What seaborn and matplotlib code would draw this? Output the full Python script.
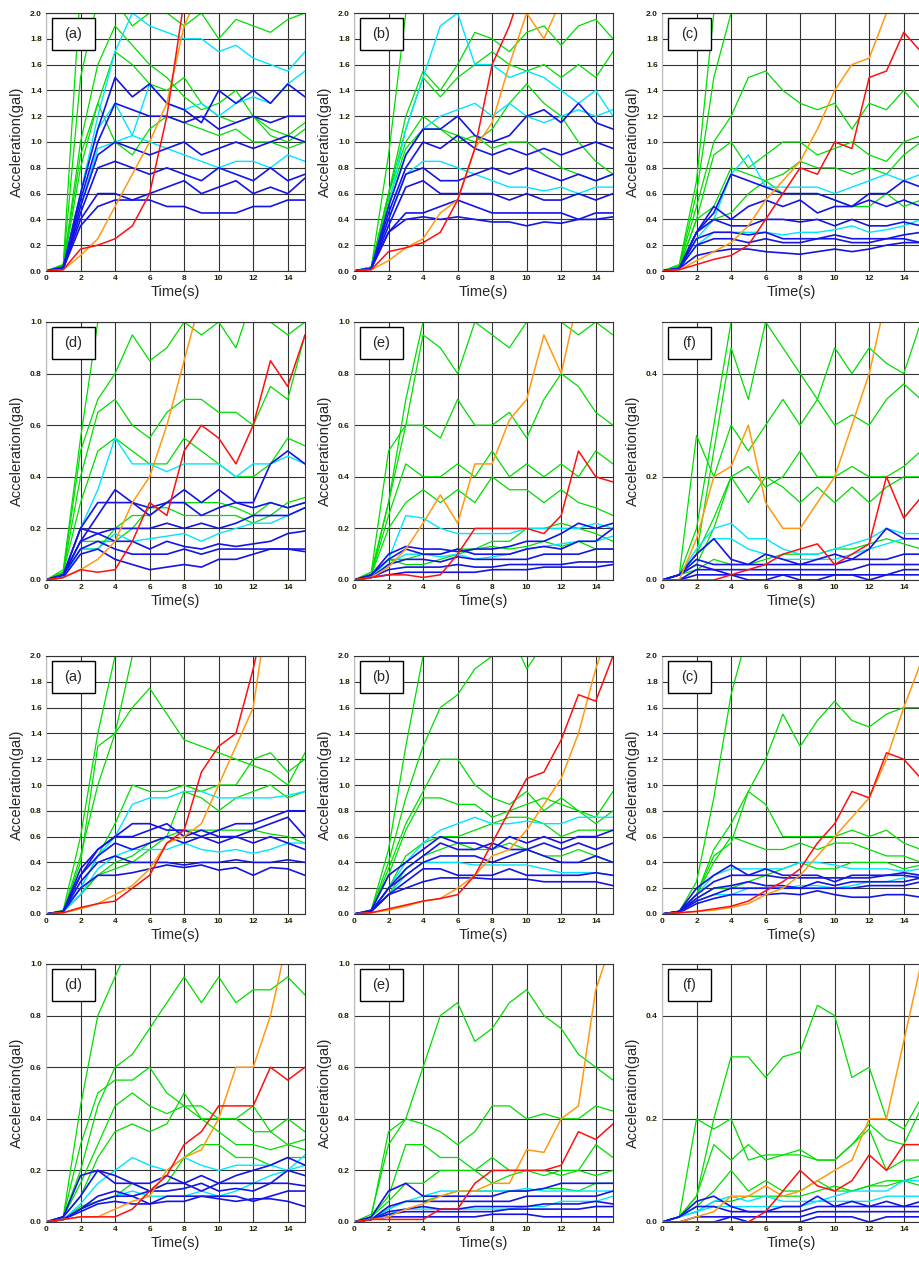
import numpy as np
import pandas as pd
import matplotlib
matplotlib.use('Agg')
import matplotlib.pyplot as plt
import seaborn as sns
from matplotlib.patches import Rectangle

# time axis (s), one sample per second
time_s = list(range(16))

# ---------- upper group ----------
ta_green = [[0, .05, 2.2, 3, 3, 3, 3, 3, 3, 3, 3, 3, 3, 3, 3, 3],
            [0, .05, 1.5, 2.1, 2.1, 1.9, 2.0, 2.0, 1.9, 2.0, 1.8, 1.95, 1.9, 1.85, 1.95, 2.0],
            [0, .04, 1.0, 1.6, 1.9, 1.75, 1.6, 1.5, 1.35, 1.25, 1.3, 1.4, 1.2, 1.1, 1.05, 1.15],
            [0, .04, .9, 1.3, 1.7, 1.6, 1.45, 1.4, 1.5, 1.3, 1.2, 1.15, 1.2, 1.05, 1.0, 1.1],
            [0, .03, .8, 1.3, 1.0, .9, 1.1, 1.2, 1.15, 1.1, 1.05, 1.1, 1.0, 1.0, .95, 1.0]]
ta_cyan = [[0, .03, .6, 1.2, 1.7, 2.0, 1.9, 1.85, 1.8, 1.8, 1.7, 1.75, 1.65, 1.6, 1.55, 1.7],
           [0, .03, .6, 1.1, 1.3, 1.05, 1.45, 1.3, 1.25, 1.3, 1.2, 1.3, 1.35, 1.3, 1.45, 1.55],
           [0, .03, .5, .95, 1.0, 1.05, 1.0, .95, .9, .85, .8, .85, .85, .8, .9, .85]]
ta_blue = [[0, .03, .6, 1.1, 1.5, 1.35, 1.45, 1.3, 1.25, 1.15, 1.4, 1.3, 1.4, 1.3, 1.45, 1.35],
           [0, .03, .55, 1.0, 1.3, 1.25, 1.2, 1.2, 1.15, 1.2, 1.1, 1.15, 1.2, 1.15, 1.2, 1.2],
           [0, .02, .5, .9, 1.0, .95, .9, .95, 1.0, .9, .95, 1.0, .95, 1.0, 1.05, 1.0],
           [0, .02, .45, .8, .85, .8, .75, .8, .75, .7, .8, .75, .7, .8, .7, .75],
           [0, .02, .4, .6, .6, .55, .6, .65, .7, .6, .65, .7, .6, .65, .6, .72],
           [0, .02, .35, .5, .55, .55, .55, .5, .5, .45, .45, .45, .5, .5, .55, .55]]
ta_red = [0, .01, .17, .2, .25, .35, .6, 1.2, 2.1, 3, 3, 3, 3, 3, 3, 3]
ta_orange = [0, .01, .12, .25, .5, .75, 1.0, 1.3, 1.9, 2.2, 3, 3, 3, 3, 3, 3]

tb_green = [[0, .03, .9, 2.0, 2.5, 3, 3, 3, 3, 3, 3, 3, 3, 3, 3, 3],
            [0, .03, .6, 1.2, 1.55, 1.4, 1.6, 1.85, 1.8, 1.7, 1.85, 1.9, 1.75, 1.9, 1.95, 1.8],
            [0, .03, .6, 1.1, 1.5, 1.35, 1.5, 1.6, 1.7, 1.6, 1.55, 1.6, 1.5, 1.6, 1.5, 1.7],
            [0, .03, .6, 1.0, 1.2, 1.1, 1.05, 1.0, 1.1, 1.3, 1.45, 1.3, 1.2, 1.0, .85, .75],
            [0, .03, .55, .95, 1.1, 1.1, 1.0, 1.05, .95, 1.0, 1.0, .9, .8, .75, .7, .75]]
tb_cyan = [[0, .03, .5, 1.1, 1.5, 1.9, 2.0, 1.6, 1.6, 1.5, 1.55, 1.5, 1.4, 1.3, 1.4, 1.2],
           [0, .02, .5, .9, 1.1, 1.2, 1.25, 1.3, 1.2, 1.3, 1.2, 1.15, 1.2, 1.25, 1.2, 1.25],
           [0, .02, .4, .75, .85, .85, .8, .75, .7, .65, .65, .62, .65, .6, .65, .65]]
tb_blue = [[0, .02, .5, .9, 1.1, 1.1, 1.2, 1.05, 1.0, 1.05, 1.2, 1.25, 1.15, 1.3, 1.15, 1.1],
           [0, .02, .45, .8, 1.0, .95, 1.05, .95, .9, .95, .9, .95, .9, .95, 1.0, .95],
           [0, .02, .4, .75, .8, .7, .7, .75, .8, .75, .8, .75, .7, .75, .7, .75],
           [0, .02, .35, .65, .7, .6, .6, .6, .6, .55, .6, .55, .55, .6, .55, .6],
           [0, .02, .3, .45, .45, .5, .55, .5, .45, .45, .45, .45, .45, .4, .45, .45],
           [0, .02, .3, .4, .42, .4, .42, .4, .38, .38, .35, .38, .37, .4, .4, .42]]
tb_red = [0, .01, .15, .18, .22, .3, .55, .95, 1.6, 1.9, 2.3, 3, 3, 3, 3, 3]
tb_orange = [0, .01, .08, .18, .25, .45, .55, .95, 1.15, 1.6, 2.0, 1.8, 2.1, 3, 3, 3]

tc_green = [[0, .05, .7, 2.0, 2.5, 3, 3, 3, 3, 3, 3, 3, 3, 3, 3, 3],
            [0, .04, .6, 1.5, 2.0, 2.0, 2.2, 2.1, 2.0, 2.0, 2.1, 2.2, 2.1, 2.0, 2.2, 2.0],
            [0, .04, .5, 1.0, 1.2, 1.5, 1.55, 1.4, 1.3, 1.25, 1.3, 1.1, 1.3, 1.25, 1.4, 1.25],
            [0, .03, .4, .9, 1.0, .8, .9, 1.0, 1.0, .9, .95, 1.0, .9, .85, 1.0, 1.05],
            [0, .03, .3, .4, .45, .6, .7, .75, .85, .8, .8, .75, .8, .75, .9, 1.0],
            [0, .03, .4, .5, .8, .75, .7, .6, .6, .6, .55, .5, .5, .6, .5, .55]]
tc_cyan = [[0, .02, .25, .4, .75, .9, .65, .65, .65, .65, .6, .65, .7, .75, .7, .75],
           [0, .02, .2, .3, .3, .3, .3, .28, .3, .3, .32, .35, .3, .32, .35, .4]]
tc_blue = [[0, .02, .3, .45, .75, .7, .65, .6, .6, .6, .55, .5, .6, .6, .7, .65],
           [0, .02, .3, .5, .4, .5, .55, .5, .55, .45, .5, .5, .55, .5, .55, .5],
           [0, .02, .3, .4, .35, .35, .4, .4, .38, .4, .35, .4, .35, .35, .38, .35],
           [0, .02, .25, .3, .3, .28, .3, .25, .25, .25, .28, .25, .25, .25, .28, .3],
           [0, .02, .2, .25, .25, .22, .25, .22, .22, .25, .25, .22, .22, .25, .25, .22],
           [0, .02, .12, .15, .17, .17, .15, .14, .13, .15, .17, .15, .17, .2, .22, .22]]
tc_red = [0, .01, .05, .09, .12, .2, .4, .6, .8, .75, 1.0, .95, 1.5, 1.55, 1.85, 1.7]
tc_orange = [0, .01, .08, .15, .22, .35, .55, .7, .85, 1.1, 1.4, 1.6, 1.65, 2.0, 2.2, 2.5]

td_green = [[0, .04, .55, 1.0, 1.2, 1.2, 1.2, 1.2, 1.2, 1.2, 1.2, 1.2, 1.2, 1.2, 1.2, 1.2],
            [0, .03, .5, .7, .8, .95, .85, .9, 1.0, .95, 1.0, .9, 1.1, 1.0, .95, 1.0],
            [0, .03, .4, .65, .7, .6, .55, .65, .7, .7, .65, .65, .6, .75, .7, .95],
            [0, .03, .3, .5, .55, .5, .45, .45, .55, .5, .45, .4, .4, .45, .55, .52],
            [0, .02, .15, .15, .15, .2, .28, .28, .25, .25, .25, .25, .22, .25, .3, .32],
            [0, .02, .12, .12, .2, .25, .25, .3, .3, .3, .3, .28, .25, .3, .28, .3]]
td_cyan = [[0, .02, .2, .35, .55, .45, .45, .42, .45, .45, .45, .4, .45, .45, .48, .45],
           [0, .01, .12, .12, .18, .15, .16, .17, .18, .15, .18, .2, .22, .22, .25, .28]]
td_blue = [[0, .02, .2, .3, .3, .3, .28, .3, .35, .3, .35, .3, .3, .45, .5, .45],
           [0, .02, .15, .25, .35, .3, .25, .3, .3, .25, .28, .3, .28, .3, .28, .3],
           [0, .02, .2, .18, .2, .2, .2, .22, .2, .22, .2, .22, .25, .25, .25, .28],
           [0, .02, .15, .18, .15, .15, .12, .15, .13, .12, .14, .13, .14, .15, .18, .19],
           [0, .02, .12, .15, .12, .1, .1, .1, .12, .1, .12, .12, .12, .12, .12, .11],
           [0, .01, .1, .12, .08, .06, .04, .05, .06, .05, .08, .08, .1, .12, .12, .12]]
td_red = [0, .01, .04, .03, .04, .15, .3, .25, .5, .6, .55, .45, .6, .85, .75, .95]
td_orange = [0, .01, .04, .08, .15, .3, .4, .6, .85, 1.1, 1.1, 1.1, 1.1, 1.1, 1.1, 1.1]

te_green = [[0, .03, .3, .7, 1.0, 1.2, 1.2, 1.2, 1.2, 1.2, 1.2, 1.2, 1.2, 1.2, 1.2, 1.2],
            [0, .03, .5, .6, .95, .9, .8, 1.0, .95, .9, 1.0, 1.1, 1.0, .95, 1.0, .95],
            [0, .02, .3, .6, .6, .55, .7, .6, .6, .65, .55, .7, .8, .75, .65, .6],
            [0, .02, .25, .45, .4, .4, .45, .4, .5, .4, .45, .4, .45, .4, .5, .45],
            [0, .02, .2, .3, .35, .3, .35, .3, .4, .35, .35, .3, .35, .3, .28, .25],
            [0, .02, .08, .08, .1, .1, .12, .12, .15, .15, .2, .2, .22, .2, .18, .15],
            [0, .02, .08, .06, .06, .08, .1, .12, .13, .12, .13, .15, .13, .15, .12, .12]]
te_cyan = [[0, .01, .08, .25, .24, .2, .18, .18, .18, .18, .2, .2, .2, .2, .22, .2],
           [0, .01, .06, .1, .1, .09, .1, .08, .09, .1, .12, .13, .14, .15, .15, .17]]
te_blue = [[0, .02, .1, .13, .12, .12, .11, .12, .12, .13, .15, .15, .18, .22, .2, .22],
           [0, .02, .08, .12, .1, .1, .12, .1, .1, .1, .12, .13, .12, .15, .15, .2],
           [0, .01, .06, .08, .08, .07, .09, .08, .08, .08, .08, .1, .1, .1, .12, .12],
           [0, .01, .04, .05, .05, .05, .06, .05, .05, .06, .06, .06, .06, .07, .07, .07],
           [0, .01, .02, .03, .03, .03, .03, .03, .04, .04, .04, .05, .05, .05, .05, .06]]
te_red = [0, .01, .02, .02, .01, .02, .1, .2, .2, .2, .2, .18, .25, .5, .4, .38]
te_orange = [0, .01, .05, .12, .22, .33, .22, .45, .45, .62, .7, .95, .8, 1.1, 1.2, 1.2]

tf_green = [[0, .01, .1, .3, .5, .6, .55, .6, .5, .55, .6, .5, .55, .6, .5, .55],
            [0, .01, .05, .25, .45, .35, .5, .45, .4, .35, .45, .4, .45, .42, .4, .5],
            [0, .01, .28, .2, .3, .25, .3, .35, .3, .35, .3, .32, .3, .35, .38, .35],
            [0, .01, .05, .12, .2, .22, .18, .2, .25, .2, .2, .22, .2, .2, .22, .25],
            [0, .01, .03, .1, .2, .15, .2, .18, .15, .18, .15, .18, .15, .18, .2, .2],
            [0, .01, .02, .04, .03, .03, .04, .05, .05, .05, .06, .06, .07, .08, .07, .06]]
tf_cyan = [[0, .01, .06, .1, .11, .08, .08, .06, .05, .05, .06, .07, .08, .1, .09, .09],
           [0, .01, .05, .08, .08, .06, .05, .04, .04, .04, .04, .05, .06, .07, .08, .08]]
tf_blue = [[0, .01, .05, .08, .04, .03, .05, .04, .03, .04, .05, .04, .06, .1, .08, .08],
           [0, .01, .04, .03, .03, .03, .03, .03, .03, .03, .03, .04, .04, .04, .05, .05],
           [0, .01, .03, .02, .02, .02, .02, .02, .02, .02, .02, .02, .03, .03, .03, .03],
           [0, 0, .02, .02, .01, .01, .01, .01, .01, .01, .01, .01, .01, .01, .02, .02],
           [0, 0, .01, .01, .01, 0, 0, .01, 0, 0, .01, .01, 0, .01, .01, .01]]
tf_red = [0, 0, 0, 0, .01, .02, .03, .05, .06, .07, .03, .05, .07, .2, .12, .16]
tf_orange = [0, 0, .08, .2, .22, .3, .15, .1, .1, .15, .2, .3, .4, .55, .6, .6]

# ---------- lower group ----------
ba_green = [[0, .03, .6, 1.4, 2.0, 2.5, 3, 3, 3, 3, 3, 3, 3, 3, 3, 3],
            [0, .02, .45, 1.0, 1.4, 2.0, 2.5, 3, 3, 3, 3, 3, 3, 3, 3, 3],
            [0, .02, .4, 1.3, 1.4, 1.6, 1.75, 1.55, 1.35, 1.3, 1.25, 1.2, 1.15, 1.1, 1.0, 1.25],
            [0, .02, .2, .45, .7, 1.0, .95, .95, 1.0, .95, 1.0, 1.0, 1.2, 1.25, 1.1, 1.2],
            [0, .02, .15, .3, .35, .4, .5, .6, .95, .9, .8, .9, .95, 1.0, .9, .95],
            [0, .02, .15, .3, .4, .45, .55, .6, .65, .65, .65, .65, .65, .62, .6, .55]]
ba_cyan = [[0, .02, .2, .45, .6, .85, .9, .9, .95, .95, .9, .9, .9, .9, .92, .95],
           [0, .02, .15, .35, .45, .5, .5, .5, .55, .5, .48, .5, .47, .5, .55, .55]]
ba_blue = [[0, .02, .35, .5, .6, .7, .7, .65, .65, .6, .65, .7, .7, .75, .8, .8],
           [0, .02, .3, .5, .6, .6, .65, .7, .6, .65, .6, .6, .65, .7, .75, .6],
           [0, .02, .3, .45, .55, .5, .55, .6, .55, .6, .55, .6, .55, .6, .55, .5],
           [0, .02, .25, .4, .45, .4, .4, .4, .38, .4, .4, .42, .4, .4, .42, .4],
           [0, .02, .2, .3, .3, .32, .35, .38, .36, .38, .34, .36, .3, .36, .35, .3]]
ba_red = [0, .01, .05, .08, .1, .2, .3, .55, .65, 1.1, 1.3, 1.4, 1.9, 2.5, 3, 3]
ba_orange = [0, .01, .04, .08, .15, .22, .35, .55, .6, .7, 1.0, 1.3, 1.6, 2.5, 3, 3]

bb_green = [[0, .03, .5, 1.3, 2.0, 2.5, 3, 3, 3, 3, 3, 3, 3, 3, 3, 3],
            [0, .03, .4, .9, 1.3, 1.6, 1.7, 1.9, 2.0, 2.2, 1.9, 2.1, 2.0, 2.1, 2.2, 2.2],
            [0, .02, .35, .7, .95, 1.2, 1.2, 1.0, .9, .85, .95, .8, .9, .8, .7, .8],
            [0, .02, .3, .65, .9, .9, .85, .85, .75, .8, .85, .9, .85, .8, .75, .95],
            [0, .02, .2, .45, .55, .6, .6, .65, .7, .75, .75, .7, .6, .65, .65, .65],
            [0, .02, .15, .35, .45, .5, .55, .5, .5, .55, .5, .45, .45, .5, .45, .4]]
bb_cyan = [[0, .02, .2, .4, .55, .65, .7, .75, .7, .7, .72, .7, .7, .75, .75, .75],
           [0, .02, .15, .3, .4, .4, .4, .38, .38, .38, .38, .35, .32, .32, .32, .3]]
bb_blue = [[0, .03, .3, .4, .5, .6, .55, .55, .5, .6, .55, .6, .55, .6, .6, .65],
           [0, .02, .2, .35, .45, .55, .5, .5, .55, .5, .5, .55, .5, .55, .5, .55],
           [0, .02, .2, .3, .4, .45, .45, .45, .4, .45, .5, .45, .4, .4, .45, .4],
           [0, .02, .15, .25, .35, .35, .3, .3, .3, .35, .3, .3, .3, .3, .32, .3],
           [0, .02, .15, .2, .25, .28, .28, .28, .27, .27, .27, .25, .25, .25, .25, .22]]
bb_red = [0, .01, .04, .07, .1, .12, .15, .3, .55, .8, 1.05, 1.1, 1.35, 1.7, 1.65, 2.0]
bb_orange = [0, .01, .03, .06, .1, .12, .2, .3, .45, .5, .65, .85, 1.05, 1.4, 1.9, 2.3]

bc_green = [[0, .02, .25, .9, 1.7, 2.2, 2.5, 3, 3, 3, 3, 3, 3, 3, 3, 3],
            [0, .02, .15, .5, .7, .95, 1.2, 1.55, 1.3, 1.5, 1.65, 1.5, 1.45, 1.55, 1.6, 1.6],
            [0, .02, .15, .45, .55, .95, .85, .6, .6, .6, .6, .65, .6, .65, .55, .5],
            [0, .02, .15, .4, .6, .55, .5, .5, .55, .5, .55, .55, .5, .45, .45, .4],
            [0, .02, .12, .2, .2, .25, .3, .35, .4, .35, .35, .4, .4, .4, .35, .38]]
bc_cyan = [[0, .02, .15, .3, .35, .35, .35, .35, .4, .4, .38, .35, .35, .35, .33, .35],
           [0, .01, .1, .15, .15, .2, .2, .2, .22, .22, .2, .22, .25, .25, .28, .3]]
bc_blue = [[0, .02, .2, .3, .38, .3, .35, .3, .3, .3, .25, .3, .3, .3, .32, .3],
           [0, .02, .15, .25, .3, .3, .3, .28, .28, .28, .28, .28, .28, .3, .3, .28],
           [0, .02, .12, .2, .22, .25, .22, .22, .2, .25, .22, .25, .25, .25, .25, .28],
           [0, .02, .1, .15, .2, .2, .2, .2, .2, .2, .2, .2, .22, .22, .22, .25],
           [0, .01, .08, .12, .15, .15, .15, .16, .15, .18, .15, .13, .13, .15, .15, .13]]
bc_red = [0, .01, .02, .04, .06, .1, .18, .25, .35, .55, .7, .95, .9, 1.25, 1.2, 1.05]
bc_orange = [0, .01, .02, .03, .05, .08, .15, .2, .3, .45, .6, .75, .9, 1.2, 1.6, 1.95]

bd_green = [[0, .02, .45, .8, .95, 1.1, 1.2, 1.2, 1.2, 1.2, 1.2, 1.2, 1.2, 1.2, 1.2, 1.2],
            [0, .02, .2, .45, .6, .65, .75, .85, .95, .85, .95, .85, .9, .9, .95, .88],
            [0, .02, .3, .5, .55, .55, .6, .5, .45, .45, .4, .4, .45, .35, .4, .35],
            [0, .02, .15, .3, .45, .5, .45, .42, .45, .4, .4, .4, .35, .35, .3, .32],
            [0, .02, .1, .25, .35, .38, .35, .38, .5, .4, .35, .3, .3, .28, .3, .28],
            [0, .01, .06, .08, .1, .15, .12, .15, .25, .3, .3, .25, .25, .22, .25, .25]]
bd_cyan = [[0, .01, .07, .15, .2, .25, .22, .2, .25, .22, .2, .22, .22, .22, .2, .26],
           [0, .01, .05, .08, .1, .12, .1, .1, .1, .12, .1, .12, .15, .18, .2, .22]]
bd_blue = [[0, .02, .18, .2, .18, .15, .15, .18, .15, .18, .15, .18, .2, .22, .25, .22],
           [0, .02, .1, .2, .15, .15, .12, .15, .15, .12, .15, .15, .15, .15, .2, .18],
           [0, .01, .05, .1, .12, .1, .12, .12, .13, .15, .12, .13, .12, .15, .15, .14],
           [0, .01, .05, .08, .1, .1, .07, .1, .1, .1, .1, .1, .08, .1, .12, .12],
           [0, .01, .04, .07, .08, .07, .07, .08, .08, .1, .09, .08, .09, .09, .08, .06]]
bd_red = [0, .01, .02, .02, .02, .05, .12, .18, .3, .35, .45, .45, .45, .6, .55, .6]
bd_orange = [0, .01, .02, .02, .05, .08, .1, .2, .25, .28, .4, .6, .6, .8, 1.1, 1.1]

be_green = [[0, .03, .3, .4, .6, .8, .85, .7, .75, .85, .9, .8, .75, .65, .6, .55],
            [0, .02, .35, .4, .38, .35, .3, .35, .45, .45, .4, .42, .4, .4, .45, .43],
            [0, .02, .1, .3, .3, .25, .25, .2, .25, .2, .2, .2, .18, .2, .3, .25],
            [0, .02, .08, .15, .15, .2, .2, .2, .15, .18, .2, .18, .2, .2, .18, .2],
            [0, .01, .05, .08, .08, .1, .12, .12, .12, .12, .12, .13, .13, .12, .15, .15]]
be_cyan = [[0, .01, .05, .08, .1, .12, .12, .12, .12, .12, .13, .12, .12, .12, .12, .12],
           [0, .01, .03, .05, .05, .05, .05, .05, .05, .05, .06, .06, .08, .08, .08, .1]]
be_blue = [[0, .02, .12, .15, .1, .1, .1, .1, .1, .12, .12, .13, .15, .15, .15, .15],
           [0, .01, .06, .08, .08, .08, .08, .08, .08, .08, .1, .1, .1, .1, .1, .12],
           [0, .01, .04, .05, .06, .05, .05, .06, .06, .06, .06, .07, .07, .07, .08, .07],
           [0, .01, .03, .04, .04, .04, .04, .04, .04, .05, .05, .05, .05, .05, .06, .06],
           [0, .01, .02, .02, .02, .02, .02, .02, .03, .03, .03, .02, .02, .02, .02, .02]]
be_red = [0, .01, .01, .01, .01, .05, .05, .15, .2, .2, .2, .2, .22, .35, .32, .38]
be_orange = [0, .01, .02, .05, .07, .1, .12, .12, .15, .15, .28, .27, .4, .45, .9, 1.1]

bf_green = [[0, .01, .05, .2, .32, .32, .28, .32, .33, .42, .4, .28, .3, .2, .18, .24],
            [0, .01, .2, .18, .2, .12, .13, .13, .14, .12, .12, .15, .19, .16, .15, .22],
            [0, .01, .05, .15, .12, .15, .12, .13, .13, .12, .12, .15, .18, .1, .12, .12],
            [0, .01, .03, .06, .1, .06, .08, .06, .06, .08, .06, .06, .07, .08, .08, .09],
            [0, .01, .02, .04, .04, .05, .05, .05, .05, .06, .07, .06, .07, .07, .08, .07]]
bf_cyan = [[0, .01, .02, .04, .05, .04, .05, .04, .04, .04, .05, .06, .06, .06, .08, .08],
           [0, .01, .02, .03, .03, .03, .03, .03, .03, .04, .04, .04, .04, .05, .05, .05]]
bf_blue = [[0, .01, .04, .05, .03, .02, .02, .03, .03, .05, .03, .04, .03, .04, .03, .04],
           [0, .01, .03, .03, .02, .02, .02, .02, .02, .03, .03, .03, .03, .03, .03, .03],
           [0, 0, .01, .01, .01, .01, .01, .01, .01, .02, .02, .02, .02, .02, .02, .02],
           [0, 0, 0, 0, .01, 0, 0, 0, 0, .01, .01, .01, 0, .01, .01, .01]]
bf_red = [0, 0, 0, 0, 0, 0, .02, .06, .1, .07, .06, .08, .13, .1, .15, .15]
bf_orange = [0, 0, .01, .02, .05, .05, .07, .05, .06, .08, .1, .12, .2, .2, .35, .5]

panel_labels = ['(a)', '(b)', '(c)', '(d)', '(e)', '(f)']

panels = [
    ('(a)', 2.0, ta_green, ta_cyan, ta_blue, ta_red, ta_orange),
    ('(b)', 2.0, tb_green, tb_cyan, tb_blue, tb_red, tb_orange),
    ('(c)', 2.0, tc_green, tc_cyan, tc_blue, tc_red, tc_orange),
    ('(d)', 1.0, td_green, td_cyan, td_blue, td_red, td_orange),
    ('(e)', 1.0, te_green, te_cyan, te_blue, te_red, te_orange),
    ('(f)', 0.5, tf_green, tf_cyan, tf_blue, tf_red, tf_orange),
    ('(a)', 2.0, ba_green, ba_cyan, ba_blue, ba_red, ba_orange),
    ('(b)', 2.0, bb_green, bb_cyan, bb_blue, bb_red, bb_orange),
    ('(c)', 2.0, bc_green, bc_cyan, bc_blue, bc_red, bc_orange),
    ('(d)', 1.0, bd_green, bd_cyan, bd_blue, bd_red, bd_orange),
    ('(e)', 1.0, be_green, be_cyan, be_blue, be_red, be_orange),
    ('(f)', 0.5, bf_green, bf_cyan, bf_blue, bf_red, bf_orange),
]

colors = {'green': '#00dd00', 'cyan': '#00e5ff', 'blue': '#1414e6',
          'red': '#ff1010', 'orange': '#ff9a10'}
widths = {'green': 0.9, 'cyan': 1.0, 'blue': 1.2, 'red': 1.1, 'orange': 1.1}

sns.set_style('white')
plt.rcParams['font.family'] = ['Liberation Sans', 'DejaVu Sans']

W, H = 919, 1261
fig = plt.figure(figsize=(W / 100, H / 100), dpi=100)

col_left = [46, 354, 662]
row_top = [13, 322, 656, 964]
ax_w, ax_h = 259, 258

for i, (lab, ymax, g, c, b, r, o) in enumerate(panels):
    row, col = divmod(i, 3)
    ax = fig.add_axes([col_left[col] / W, 1 - (row_top[row] + ax_h) / H,
                       ax_w / W, ax_h / H])
    rows = []
    for name, group in [('green', g), ('cyan', c), ('blue', b),
                        ('orange', [o]), ('red', [r])]:
        for k, vals in enumerate(group):
            for t, v in zip(time_s, vals):
                rows.append((name, f'{name}{k}', t, v))
    df = pd.DataFrame(rows, columns=['color', 'series', 'time', 'acc'])
    for name in ['green', 'cyan', 'blue', 'orange', 'red']:
        sub = df[df['color'] == name]
        sns.lineplot(data=sub, x='time', y='acc', units='series', estimator=None,
                     color=colors[name], lw=widths[name], ax=ax, legend=False)

    ax.set_xlim(0, 15)
    ax.set_ylim(0, ymax)
    ax.set_xticks(range(0, 15, 2))
    if ymax == 0.5:
        yt = [0.0, 0.2, 0.4]
    else:
        yt = list(np.round(np.arange(0, ymax + 0.01, 0.2), 1))
    ax.set_yticks(yt)
    ax.set_yticklabels([f'{v:.1f}' for v in yt])
    ax.tick_params(length=0, labelsize=6, pad=3)
    for tl in ax.get_xticklabels() + ax.get_yticklabels():
        tl.set_fontweight('bold')
        tl.set_color('#222200')
    ax.grid(True, color='#333333', lw=0.8)
    ax.set_axisbelow(True)
    for s in ['top', 'right', 'bottom']:
        ax.spines[s].set_color('#333333')
        ax.spines[s].set_linewidth(0.8)
    ax.spines['left'].set_color('#bbbbbb')
    ax.set_xlabel('Time(s)', fontsize=10.5, labelpad=2)
    ax.set_ylabel('Acceleration(gal)', fontsize=10.5, labelpad=4)

    ax.add_patch(Rectangle((0.023, 0.857), 0.167, 0.123, transform=ax.transAxes,
                           facecolor='white', edgecolor='black', lw=1.0, zorder=5))
    ax.text(0.106, 0.918, lab, transform=ax.transAxes, fontsize=10.5,
            ha='center', va='center', zorder=6)

fig.savefig('out.png', dpi=100)
